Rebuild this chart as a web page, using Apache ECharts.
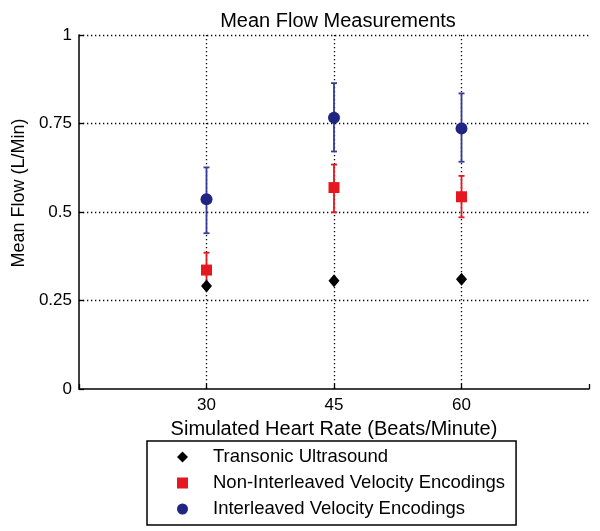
<!DOCTYPE html>
<html>
<head>
<meta charset="utf-8">
<script src="https://cdn.jsdelivr.net/npm/echarts@6/dist/echarts.min.js"></script>
<style>
html,body{margin:0;padding:0;background:#fff;}
#chart{width:600px;height:531px;}
</style>
</head>
<body>
<div id="chart"></div>
<script>
const heartRates = [30, 45, 60];
const xTickLabels = ['30', '45', '60'];
const yTickValues = [0, 0.25, 0.5, 0.75, 1];
const seriesNames = ['Transonic Ultrasound', 'Non-Interleaved Velocity Encodings', 'Interleaved Velocity Encodings'];
const transonic = [0.291, 0.306, 0.310];
const nonInterleaved = [0.336, 0.569, 0.543];
const nonInterleavedLow = [0.287, 0.499, 0.485];
const nonInterleavedHigh = [0.385, 0.634, 0.602];
const interleaved = [0.536, 0.766, 0.736];
const interleavedLow = [0.440, 0.671, 0.642];
const interleavedHigh = [0.626, 0.864, 0.835];

const FONT = '"Liberation Sans", Arial, sans-serif';
const BLUE = '#1f2580';
const BLUE_BAR = '#353b97';
const RED = '#e5171f';

function pts(vals) { return heartRates.map((x, i) => [x, vals[i]]); }
function errData(low, high) { return heartRates.map((x, i) => [x, low[i], high[i]]); }

function errorBar(color) {
  return function (params, api) {
    const x = api.value(0);
    const lo = api.coord([x, api.value(1)]);
    const hi = api.coord([x, api.value(2)]);
    const cap = 3;
    const style = { stroke: color, lineWidth: 1.8, fill: null };
    return {
      type: 'group',
      children: [
        { type: 'line', shape: { x1: lo[0], y1: lo[1], x2: hi[0], y2: hi[1] }, style: style },
        { type: 'line', shape: { x1: lo[0] - cap, y1: lo[1], x2: lo[0] + cap, y2: lo[1] }, style: style },
        { type: 'line', shape: { x1: hi[0] - cap, y1: hi[1], x2: hi[0] + cap, y2: hi[1] }, style: style }
      ]
    };
  };
}

const dotted = { color: '#000', width: 1.3, type: [1.3, 2.7] };

const chart = echarts.init(document.getElementById('chart'), null, { renderer: 'canvas' });
chart.setOption({
  animation: false,
  backgroundColor: '#fff',
  title: {
    text: 'Mean Flow Measurements',
    left: 333, textAlign: 'center', top: 6,
    textStyle: { fontFamily: FONT, fontSize: 20, fontWeight: 'normal', color: '#000' }
  },
  grid: { left: 79, right: 11, top: 35, bottom: 142, containLabel: false },
  xAxis: {
    type: 'value', min: 15, max: 75, interval: 15,
    name: 'Simulated Heart Rate (Beats/Minute)', nameLocation: 'middle', nameGap: 30,
    nameTextStyle: { fontFamily: FONT, fontSize: 20, color: '#000' },
    axisLine: { show: true, onZero: false, lineStyle: { color: '#000', width: 1.5 } },
    axisTick: { show: true, inside: true, length: 5, lineStyle: { color: '#000', width: 1.3 } },
    axisLabel: {
      margin: 8, fontFamily: FONT, fontSize: 17, color: '#000',
      formatter: function (v) { const i = heartRates.indexOf(v); return i >= 0 ? xTickLabels[i] : ''; }
    },
    splitLine: { show: true, showMinLine: false, showMaxLine: false, lineStyle: dotted }
  },
  yAxis: {
    type: 'value', min: 0, max: 1, interval: 0.25,
    name: 'Mean Flow (L/Min)', nameLocation: 'middle', nameGap: 50,
    nameTextStyle: { fontFamily: FONT, fontSize: 18, color: '#000', padding: [0, 0, 0, 38] },
    axisLine: { show: true, lineStyle: { color: '#000', width: 1.5 } },
    axisTick: { show: true, inside: true, length: 5, lineStyle: { color: '#000', width: 1.3 } },
    axisLabel: {
      margin: 7, fontFamily: FONT, fontSize: 17, color: '#000',
      formatter: function (v) { return yTickValues.indexOf(v) >= 0 ? String(v) : ''; }
    },
    splitLine: { show: true, showMinLine: false, showMaxLine: true, lineStyle: dotted }
  },
  legend: {
    orient: 'vertical', left: 147, top: 441,
    padding: [6, 11, 6, 30],
    backgroundColor: '#fff', borderColor: '#000', borderWidth: 1.5,
    itemWidth: 11, itemHeight: 11, itemGap: 6,
    textStyle: { fontFamily: FONT, fontSize: 18.5, color: '#000', lineHeight: 20, padding: [0, 0, 0, 20] },
    data: [
      { name: seriesNames[0], icon: 'diamond' },
      { name: seriesNames[1], icon: 'rect' },
      { name: seriesNames[2], icon: 'circle' }
    ]
  },
  series: [
    { type: 'custom', name: 'err-ni', renderItem: errorBar(RED), data: errData(nonInterleavedLow, nonInterleavedHigh), z: 2, silent: true },
    { type: 'custom', name: 'err-i', renderItem: errorBar(BLUE_BAR), data: errData(interleavedLow, interleavedHigh), z: 2, silent: true },
    { type: 'scatter', name: seriesNames[1], symbol: 'rect', symbolSize: 11, itemStyle: { color: RED, opacity: 1 }, data: pts(nonInterleaved), z: 3 },
    { type: 'scatter', name: seriesNames[2], symbol: 'circle', symbolSize: 12, itemStyle: { color: BLUE, opacity: 1 }, data: pts(interleaved), z: 3 },
    { type: 'scatter', name: seriesNames[0], symbol: 'diamond', symbolSize: [11, 13], itemStyle: { color: '#000', opacity: 1 }, data: pts(transonic), z: 4 }
  ]
});
</script>
</body>
</html>
